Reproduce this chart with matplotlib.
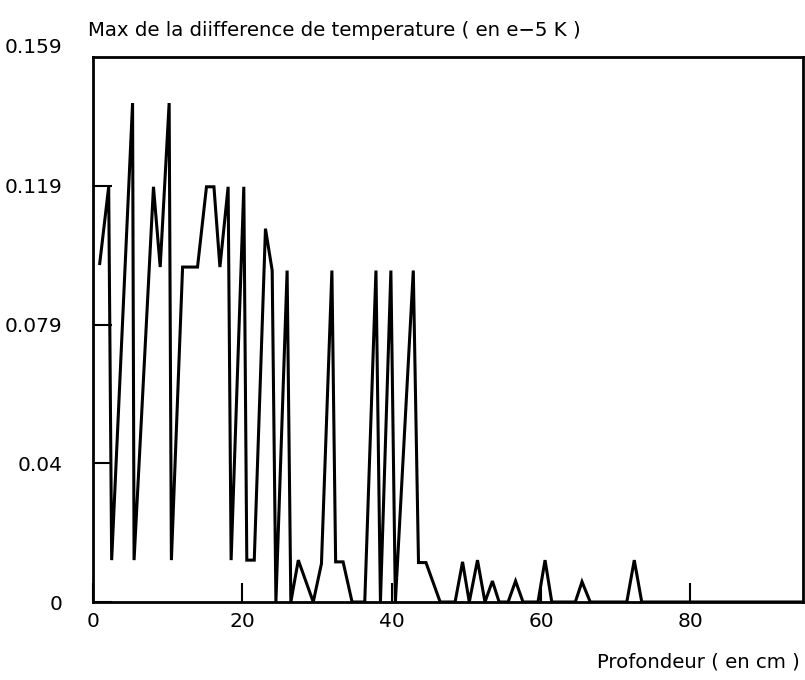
import matplotlib
matplotlib.use("Agg")
import matplotlib.pyplot as plt
import matplotlib.transforms as mtransforms

# Profondeur (cm) et max de la difference de temperature (e-5 K)
profondeur = [0.9, 2.1, 2.5, 5.3, 5.5, 8.1, 9.0, 10.2, 10.5, 12.0,
              14.0, 15.2, 16.2, 17.0, 18.1, 18.5, 20.2, 20.6, 21.6, 23.1,
              24.0, 24.5, 26.0, 26.5, 27.5, 29.5, 30.6, 32.0, 32.5, 33.5,
              34.7, 36.4, 37.9, 38.5, 39.9, 40.5, 42.9, 43.6, 44.6, 46.5,
              48.5, 49.5, 50.4, 51.5, 52.5, 53.5, 54.4, 55.6, 56.6, 57.6,
              59.6, 60.55, 61.45, 64.6, 65.5, 66.6, 71.5, 72.5, 73.5, 95.0]
diff_max = [0.097, 0.119, 0.012, 0.143, 0.012, 0.119, 0.096, 0.143, 0.012, 0.096,
            0.096, 0.119, 0.119, 0.096, 0.119, 0.012, 0.119, 0.012, 0.012, 0.107,
            0.095, 0.0, 0.095, 0.0, 0.012, 0.0, 0.011, 0.095, 0.0115, 0.0115,
            0.0, 0.0, 0.095, 0.0, 0.095, 0.0, 0.095, 0.0113, 0.0113, 0.0,
            0.0, 0.0115, 0.0, 0.012, 0.0, 0.006, 0.0, 0.0, 0.006, 0.0,
            0.0, 0.012, 0.0, 0.0, 0.0058, 0.0, 0.0, 0.012, 0.0, 0.0]

yticks = [0, 0.03975, 0.0795, 0.11925]
ytick_labels = ["0", "0.04", "0.079", "0.119"]
xticks = [0, 20, 40, 60, 80]

fig = plt.figure(figsize=(8.05, 6.80), dpi=100)
ax = fig.add_axes([93 / 805, 1 - 602 / 680, 710 / 805, 545 / 680])

ax.plot(profondeur, diff_max, color='black', linewidth=2.2, solid_joinstyle='miter')

ax.set_xlim(0, 95.1)
ax.set_ylim(0, 0.1562)
ax.set_xticks(xticks)
ax.set_xticklabels([str(t) for t in xticks])
ax.set_yticks(yticks)
ax.set_yticklabels(ytick_labels)
ax.tick_params(axis='both', direction='in', length=13.5, width=1.5, labelsize=14.5)
ax.tick_params(axis='y', pad=22)
ax.tick_params(axis='x', pad=7)
for s in ax.spines.values():
    s.set_linewidth(2.0)

# etiquette du haut de l'axe (au-dessus du cadre)
trans = mtransforms.blended_transform_factory(ax.transAxes, ax.transData)
ax.text(-31 / 710, 0.159, "0.159", transform=trans, ha='right', va='center',
        fontsize=14.5, clip_on=False)

fig.text(88 / 805, 1 - 30 / 680, "Max de la diifference de temperature ( en e−5 K )",
         ha='left', va='center', fontsize=14.2)
fig.text(800 / 805, 1 - 662 / 680, "Profondeur ( en cm )",
         ha='right', va='center', fontsize=14.2)

fig.savefig("out.png", dpi=100)
